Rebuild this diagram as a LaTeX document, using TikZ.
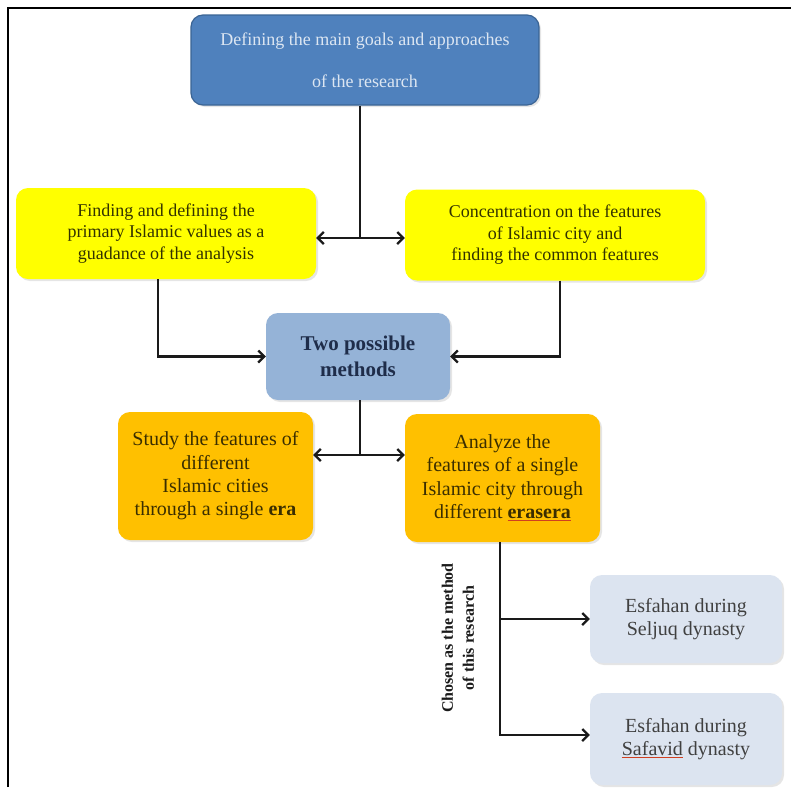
\documentclass[tikz,border=0pt]{standalone}
\usepackage{fontspec}
\setmainfont{Liberation Serif}
\usetikzlibrary{arrows.meta,shadows,calc}
\definecolor{topblue}{HTML}{4F81BD}
\definecolor{topborder}{HTML}{3B6494}
\definecolor{toptext}{HTML}{DCE6F2}
\definecolor{yel}{HTML}{FFFF00}
\definecolor{yeltext}{HTML}{333300}
\definecolor{methfill}{HTML}{95B3D7}
\definecolor{methtext}{HTML}{1F2D4A}
\definecolor{orng}{HTML}{FFC000}
\definecolor{orngtext}{HTML}{3A2E00}
\definecolor{pale}{HTML}{DCE4F0}
\definecolor{paletext}{HTML}{404040}
\definecolor{linecol}{HTML}{1A1A1A}
\definecolor{ulred}{HTML}{D04020}
\newsavebox{\myulbox}
\newcommand{\myredul}[1]{\sbox{\myulbox}{#1}\rlap{\textcolor{ulred}{\rule[-3pt]{\wd\myulbox}{0.9pt}}}\usebox{\myulbox}}
\begin{document}
\begin{tikzpicture}[x=1pt,y=-1pt,
  box/.style={rounded corners=12pt, align=center, inner sep=0pt,
    drop shadow={shadow xshift=2pt, shadow yshift=-2pt, opacity=0.2}},
  conn/.style={draw=linecol, line width=2.2pt},
  arr/.style={conn, -{Straight Barb[length=6pt,width=12pt]}},
  yelbox/.style={box, fill=yel, text=yeltext, minimum width=300pt, minimum height=91pt,
    font=\fontsize{18}{21.5}\selectfont},
  orbox/.style={box, fill=orng, text=orngtext, minimum width=195pt, minimum height=128pt,
    font=\fontsize{20}{23.3}\selectfont},
  palebox/.style={box, fill=pale, text=paletext, minimum width=192pt,
    font=\fontsize{20}{23}\selectfont}
]
\useasboundingbox (0,0) rectangle (791,787);
\fill[white] (0,0) rectangle (791,787);
\draw[line width=2pt] (8,787) -- (8,8) -- (791,8);

\node[box, fill=topblue, draw=topborder, line width=1.2pt, minimum width=348pt,
  minimum height=90pt, text=toptext, font=\fontsize{18}{21.5}\selectfont]
  (top) at (365,60) {Defining the main goals and approaches\\[20pt]of the research};

\node[yelbox] (lefty) at (166,233.5) {Finding and defining the\\primary Islamic values as a\\guadance of the analysis};
\node[yelbox] (righty) at (555,235) {Concentration on the features\\of Islamic city and\\finding the common features};

\node[box, fill=methfill, text=methtext, minimum width=184pt, minimum height=87pt,
  font=\bfseries\fontsize{21}{26}\selectfont] (methods) at (358,356.5) {Two possible\\methods};

\node[orbox] (lefto) at (215.5,476) {Study the features of\\different\\Islamic cities\\through a single \textbf{era}};
\node[orbox] (righto) at (502.5,478) {Analyze the\\features of a single\\Islamic city through\\different \myredul{\textbf{erasera}}};

\node[palebox, minimum height=88pt] (seljuq) at (686,619) {Esfahan during\\Seljuq dynasty};
\node[palebox, minimum height=92pt] (safavid) at (686,739) {Esfahan during\\\myredul{Safavid} dynasty};

\node[rotate=90, align=center, text=linecol, font=\bfseries\fontsize{16}{21}\selectfont]
  (lbl) at (458,638) {Chosen as the method\\of this research};

\coordinate (j1) at (360,238);
\draw[conn] (j1 |- top.south) -- (j1);
\draw[arr] (j1) -- (j1 -| lefty.east);
\draw[arr] (j1) -- (j1 -| righty.west);
\draw[arr] ([xshift=-8pt]lefty.south) |- (methods.west);
\draw[arr] ([xshift=5pt]righty.south) |- (methods.east);

\coordinate (j2) at (360,455);
\draw[conn] (j2 |- methods.south) -- (j2);
\draw[arr] (j2) -- (j2 -| lefto.east);
\draw[arr] (j2) -- (j2 -| righto.west);

\coordinate (j3) at (500,619);
\draw[conn] (j3 |- righto.south) -- (j3);
\draw[arr] (j3) -- (j3 -| seljuq.west);
\draw[arr] (j3) |- ([yshift=4pt]safavid.west);
\end{tikzpicture}
\end{document}
